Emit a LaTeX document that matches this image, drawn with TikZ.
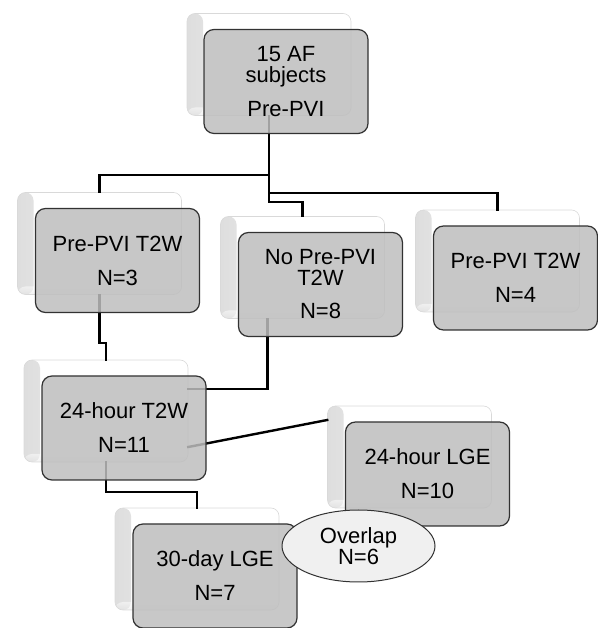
\documentclass[tikz,border=0pt]{standalone}
\usepackage{fontspec}
\setmainfont{Liberation Sans}
\usepackage{tikz}
\usetikzlibrary{shapes.geometric, positioning, calc}
\definecolor{boxgray}{RGB}{190,190,190}
\definecolor{boxline}{RGB}{50,50,50}
\definecolor{ovalgray}{RGB}{240,240,240}

\begin{document}
\begin{tikzpicture}[
    x=1pt, y=1pt,
    backbox/.style={rectangle, rounded corners=8pt, minimum width=164pt, minimum height=102pt, fill=white, draw=black!15, line width=0.6pt,
        path picture={
            \shade[left color=black!13, right color=white] (path picture bounding box.south west) rectangle ([xshift=16pt]path picture bounding box.north west);
            \shade[bottom color=black!10, top color=white, fill opacity=0.5] (path picture bounding box.south west) rectangle ([yshift=8pt]path picture bounding box.south east);
        }},
    frontbox/.style={rectangle, rounded corners=10pt, minimum width=164pt, minimum height=104pt, fill=boxgray, fill opacity=0.85, text opacity=1, draw=boxline, line width=1.2pt, align=center, font=\fontsize{22}{21}\selectfont},
    oval/.style={ellipse, minimum width=153pt, minimum height=72pt, inner sep=0pt, fill=ovalgray, draw=boxline, line width=1pt, align=center, font=\fontsize{22}{21}\selectfont},
    link/.style={line width=2.4pt, line cap=rect}
]
\useasboundingbox (0,0) rectangle (597,628);

\node[backbox] (subjb) at (269,563.5) {};
\node[backbox] (pre3b) at (99.5,384.5) {};
\node[backbox] (nopreb) at (302.5,360.5) {};
\node[backbox] (pre4b) at (497.5,367) {};
\node[backbox] (t2w24b) at (106,217) {};
\node[backbox] (lge24b) at (409.5,171) {};
\node[backbox] (lge30b) at (197,69) {};

\draw[link] (subjb.south) -- ++(0,-59) -| (pre3b.north);
\draw[link] (subjb.south) -- ++(0,-77) -| (pre4b.north);
\draw[link] (subjb.south) -- ++(0,-86) -| (nopreb.north);
\draw[link] (pre3b.south) -- ++(0,-48) -| (t2w24b.north);
\draw[link] ([xshift=-35pt]nopreb.south) |- ([yshift=22pt]t2w24b.east);
\draw[link] ([yshift=-36pt]t2w24b.east) -- ([yshift=37pt]lge24b.west);
\draw[link] (t2w24b.south) -- ++(0,-30) -| (lge30b.north);

\node[frontbox] (subj) at ([shift={(17,-17)}]subjb) {15 AF\\subjects\\[13pt]Pre-PVI};
\node[frontbox] (pre3) at ([shift={(18,-17)}]pre3b) {Pre-PVI T2W\\[13pt]N=3};
\node[frontbox] (nopre) at ([shift={(18,-17)}]nopreb) {No Pre-PVI\\T2W\\[12pt]N=8};
\node[frontbox] (pre4) at ([shift={(18,-17)}]pre4b) {Pre-PVI T2W\\[13pt]N=4};
\node[frontbox] (t2w24) at ([shift={(18,-17)}]t2w24b) {24-hour T2W\\[13pt]N=11};
\node[frontbox] (lge24) at ([shift={(18,-17)}]lge24b) {24-hour LGE\\[13pt]N=10};
\node[frontbox] (lge30) at ([shift={(18,-17)}]lge30b) {30-day LGE\\[13pt]N=7};

\node[oval] (overlap) at (358.5,82) {Overlap\\N=6};
\end{tikzpicture}
\end{document}
